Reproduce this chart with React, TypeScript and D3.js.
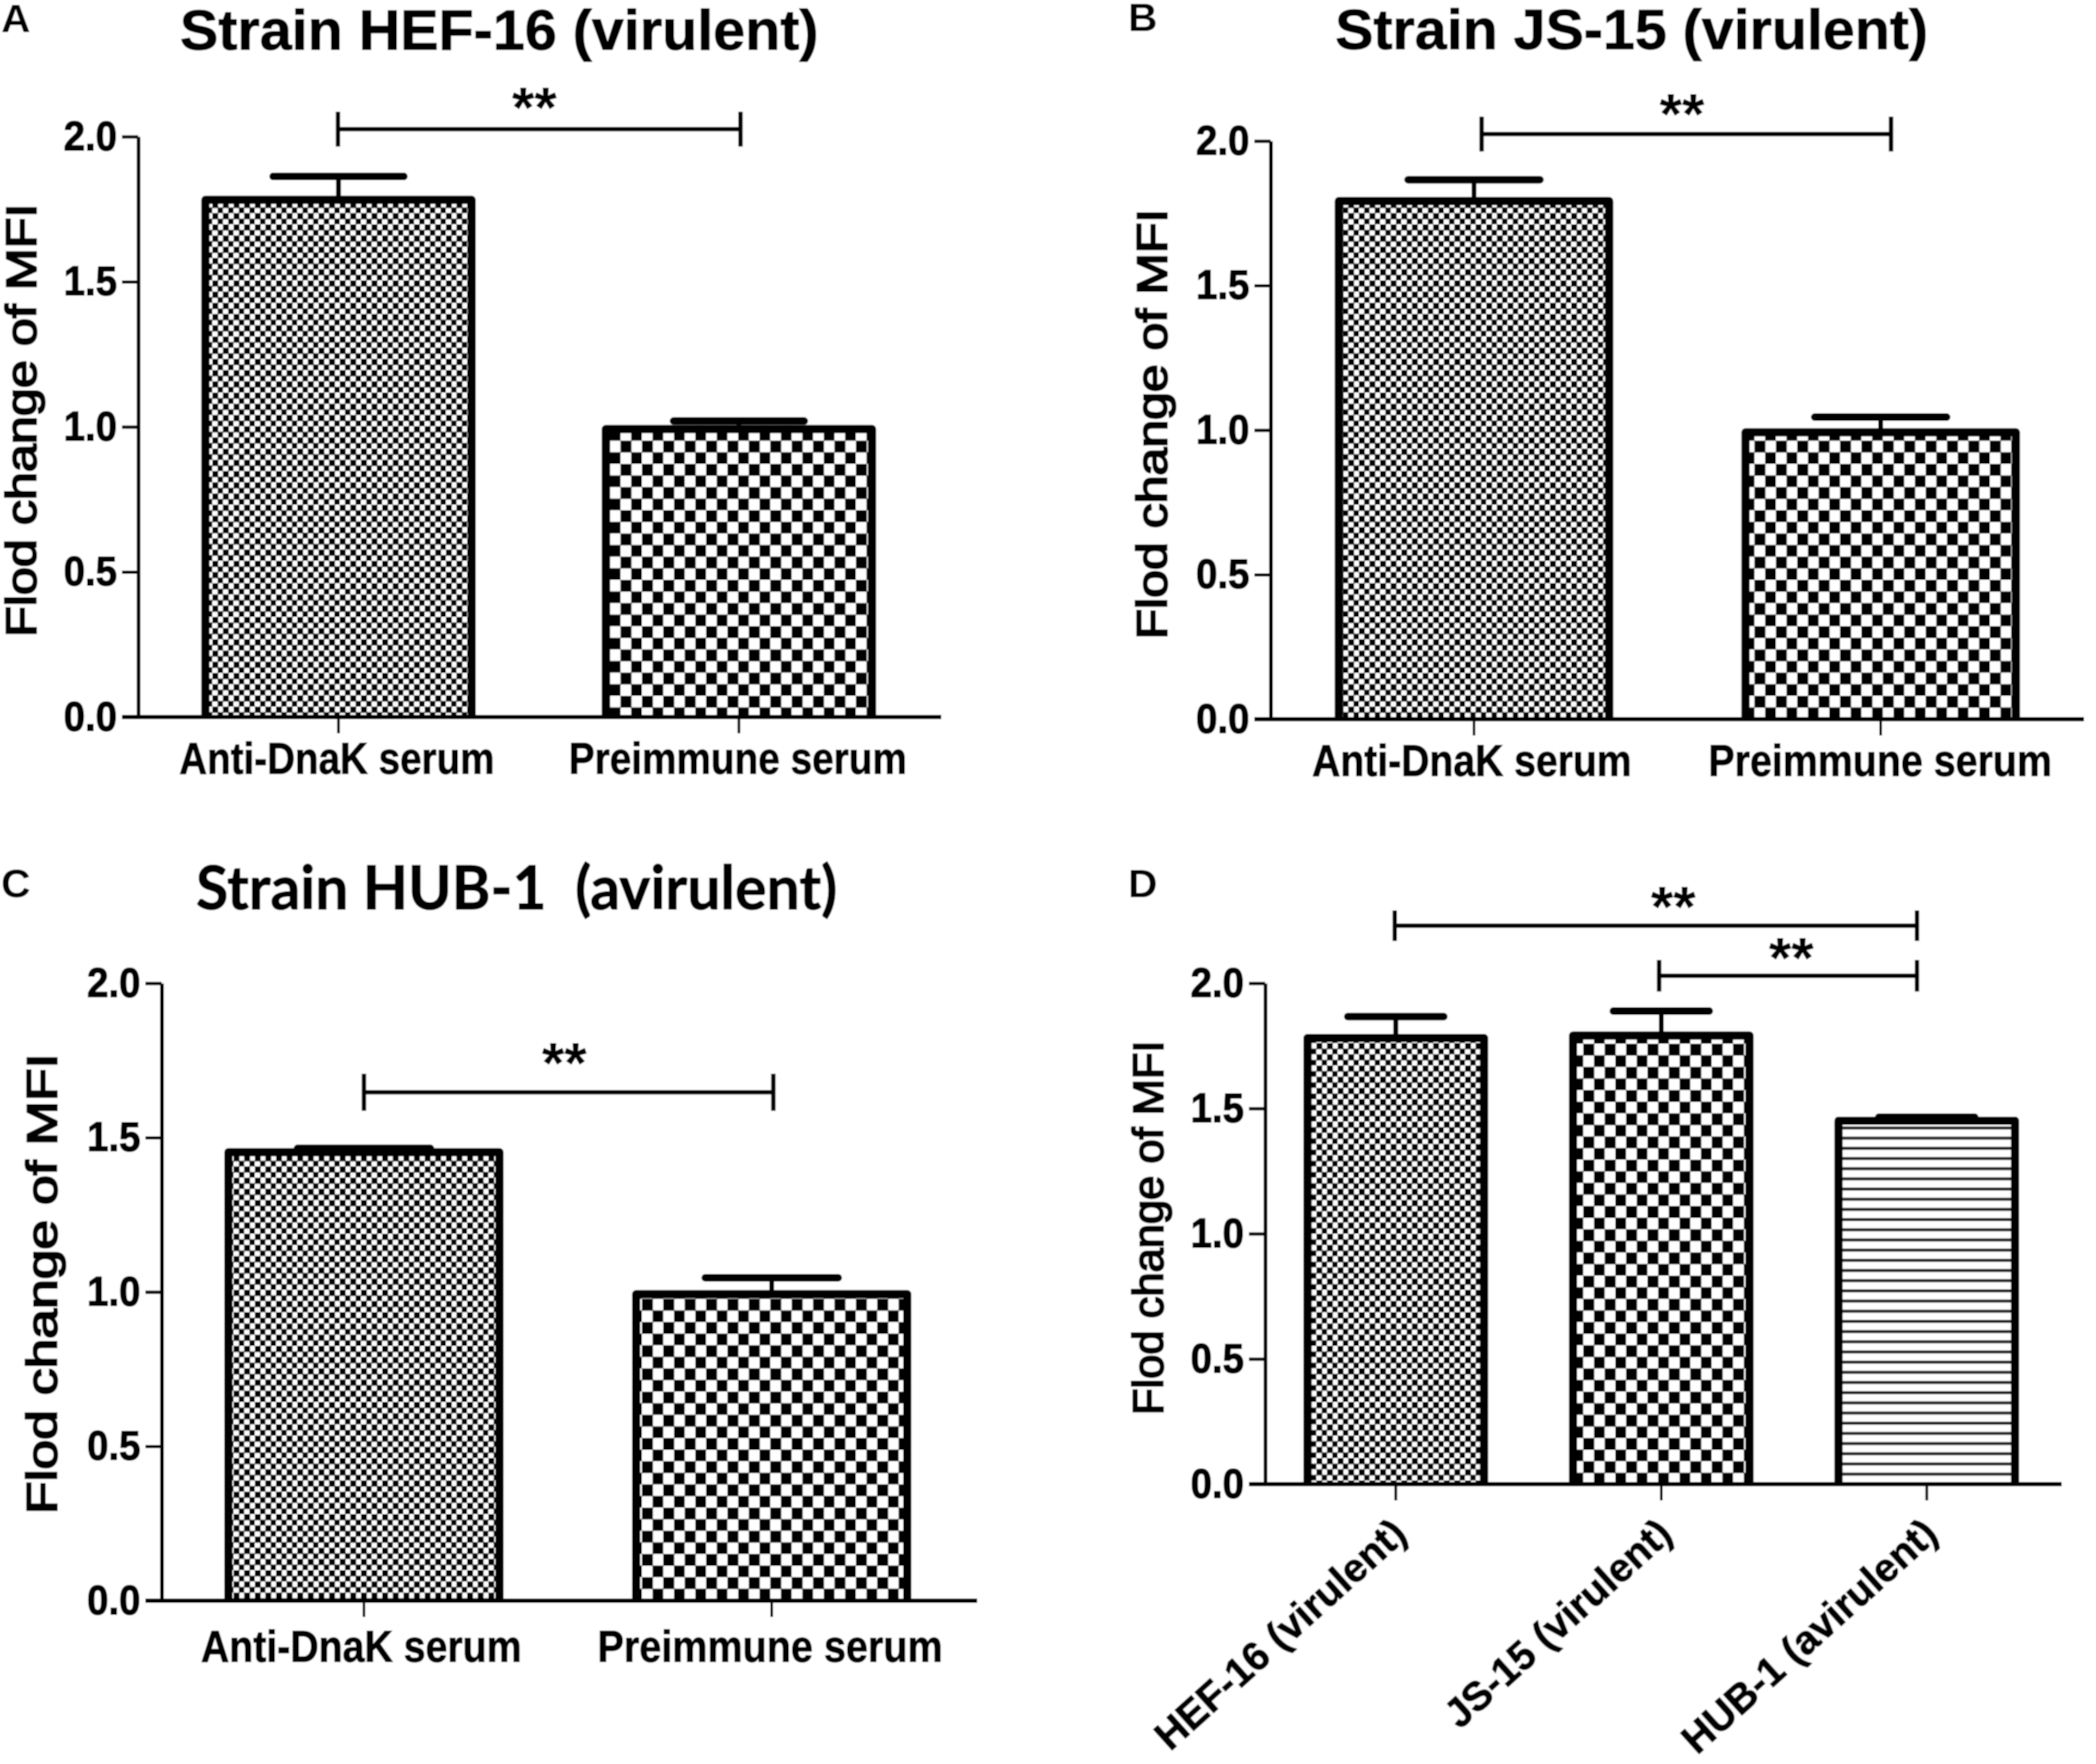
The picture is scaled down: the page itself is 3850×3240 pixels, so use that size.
import { useEffect, useRef } from "react"
import * as d3 from "d3"

const serumCategories = ["Anti-DnaK serum", "Preimmune serum"]
const strainCategories = ["HEF-16 (virulent)", "JS-15 (virulent)", "HUB-1 (avirulent)"]
const yTicks = [0, 0.5, 1, 1.5, 2]

const meansA = [1.79, 1.0]
const errorsA = [1.863, 1.02]
const meansB = [1.8, 1.0]
const errorsB = [1.866, 1.045]
const meansC = [1.46, 1.0]
const errorsC = [1.465, 1.046]
const meansD = [1.79, 1.8, 1.46]
const errorsD = [1.867, 1.889, 1.465]

const patternsSerum = ["fine", "coarse"]
const patternsStrain = ["fine", "coarse", "stripes"]

const panels: any[] = [
  {
    letter: "A", letterX: 2, letterY: 59,
    title: "Strain HEF-16 (virulent)", titleX: 917, titleY: 91, titleW: 1173, titleFont: "Liberation Sans", titleSize: 104,
    categories: serumCategories, patterns: patternsSerum, means: meansA, errors: errorsA,
    x0: 254, x1: 1729, band0: 254, band1: 1725, yTop: 251, yBottom: 1317,
    capHalf: 120, labelY: 104, labelWidths: [579, 621], labelDx: [-3, -2],
    yLabelX: 66, yLabelY: 772, yLabelW: 796,
    brackets: [{ from: 0, to: 1, level: 2.026, half: 32, dxFrom: -1, dxTo: 3, starDx: -9, starDy: 58 }],
  },
  {
    letter: "B", letterX: 2072, letterY: 57,
    title: "Strain JS-15 (virulent)", titleX: 2997, titleY: 90, titleW: 1089, titleFont: "Liberation Sans", titleSize: 104,
    categories: serumCategories, patterns: patternsSerum, means: meansB, errors: errorsB,
    x0: 2334, x1: 3828, band0: 2334, band1: 3828, yTop: 259, yBottom: 1321,
    capHalf: 121, labelY: 104, labelWidths: [587, 631], labelDx: [-4, -1],
    yLabelX: 2143, yLabelY: 779, yLabelW: 791,
    brackets: [{ from: 0, to: 1, level: 2.024, half: 32, dxFrom: 14, dxTo: 19, starDx: -8, starDy: 55 }],
  },
  {
    letter: "C", letterX: 2, letterY: 1648,
    title: "Strain HUB-1  (avirulent)", titleX: 949, titleY: 1670, titleW: 1178, titleFont: "Lato", titleSize: 112,
    categories: serumCategories, patterns: patternsSerum, means: meansC, errors: errorsC,
    x0: 297, x1: 1795, band0: 294, band1: 1792, yTop: 1806, yBottom: 2940,
    capHalf: 122, labelY: 112, labelWidths: [589, 634], labelDx: [-5, -3],
    yLabelX: 104, yLabelY: 2358, yLabelW: 846,
    brackets: [{ from: 0, to: 1, level: 1.647, half: 34, dxFrom: 0, dxTo: 3, starDx: -8, starDy: 72 }],
  },
  {
    letter: "D", letterX: 2072, letterY: 1648,
    categories: strainCategories, patterns: patternsStrain, means: meansD, errors: errorsD,
    x0: 2324, x1: 3787, band0: 2320, band1: 3783, yTop: 1806, yBottom: 2726,
    capHalf: 88, rotated: true, rotatedWidths: [590, 530, 600],
    yLabelX: 2136, yLabelY: 2255, yLabelW: 688,
    brackets: [
      { from: 0, to: 2, level: 2.23, half: 28, dxFrom: -2, dxTo: -18, starDx: 32, starDy: 53 },
      { from: 1, to: 2, level: 2.03, half: 29, dxFrom: -4, dxTo: -18, starDx: 6, starDy: 51 },
    ],
  },
]

const BOLD = "'Liberation Sans', Arial, sans-serif"

function addDefs(svg: any) {
  const defs = svg.append("defs")
  const checker = (id: string, w: number, h: number, over: number) => {
    const p = defs
      .append("pattern")
      .attr("id", id)
      .attr("patternUnits", "userSpaceOnUse")
      .attr("width", w)
      .attr("height", h)
    p.append("rect").attr("width", w).attr("height", h).attr("fill", "#fff")
    p.append("rect").attr("width", w / 2 + over).attr("height", h / 2 + over).attr("fill", "#000")
    p.append("rect")
      .attr("x", w / 2)
      .attr("y", h / 2)
      .attr("width", w / 2 + over)
      .attr("height", h / 2 + over)
      .attr("fill", "#000")
  }
  checker("fine", 19.5, 20.6, 1)
  checker("coarse", 39.3, 42.6, 0.5)
  const s = defs
    .append("pattern")
    .attr("id", "stripes")
    .attr("patternUnits", "userSpaceOnUse")
    .attr("width", 20)
    .attr("height", 18.7)
  s.append("rect").attr("width", 20).attr("height", 18.7).attr("fill", "#fff")
  s.append("rect").attr("y", 12).attr("width", 20).attr("height", 5.5).attr("fill", "#222")
  // the source is a soft jpeg
  defs
    .append("filter")
    .attr("id", "soft")
    .attr("x", 0)
    .attr("y", 0)
    .attr("width", "100%")
    .attr("height", "100%")
    .append("feGaussianBlur")
    .attr("stdDeviation", 1.1)
}

function drawPanel(svg: any, p: any) {
  const g = svg.append("g")
  const y = d3.scaleLinear().domain([0, 2]).range([p.yBottom, p.yTop])
  const x = d3.scaleBand<string>().domain(p.categories).range([p.band0, p.band1]).paddingInner(0.335).paddingOuter(0.1675)
  const mid = (i: number) => (x(p.categories[i]) as number) + x.bandwidth() / 2
  const sw = 15
  const inset = 4

  // error bars go under the bars
  p.categories.forEach((c: string, i: number) => {
    g.append("line")
      .attr("x1", mid(i))
      .attr("x2", mid(i))
      .attr("y1", y(p.means[i]))
      .attr("y2", y(p.errors[i]))
      .attr("stroke", "#000")
      .attr("stroke-width", 9)
    g.append("line")
      .attr("x1", mid(i) - p.capHalf)
      .attr("x2", mid(i) + p.capHalf)
      .attr("y1", y(p.errors[i]))
      .attr("y2", y(p.errors[i]))
      .attr("stroke", "#000")
      .attr("stroke-width", 14)
      .attr("stroke-linecap", "round")
  })

  p.categories.forEach((c: string, i: number) => {
    const left = x(c) as number
    const right = left + x.bandwidth()
    const top = y(p.means[i]) + inset
    g.append("rect")
      .attr("x", left)
      .attr("y", top)
      .attr("width", x.bandwidth())
      .attr("height", y(0) - top)
      .attr("fill", `url(#${p.patterns[i]})`)
    // three sides only, the axis closes the bar
    const outline = d3.path()
    outline.moveTo(left, y(0))
    outline.lineTo(left, top)
    outline.lineTo(right, top)
    outline.lineTo(right, y(0))
    g.append("path")
      .attr("d", outline.toString())
      .attr("fill", "none")
      .attr("stroke", "#000")
      .attr("stroke-width", sw)
      .attr("stroke-linejoin", "round")
  })

  const yAxis = g
    .append("g")
    .attr("transform", `translate(${p.x0},0)`)
    .call(d3.axisLeft(y).tickValues(yTicks).tickFormat(d3.format(".1f") as any).tickSize(30).tickPadding(9).tickSizeOuter(0))
  yAxis.select(".domain").attr("stroke", "#000").attr("stroke-width", 7)
  yAxis.selectAll("line").attr("stroke", "#000").attr("stroke-width", 6)
  yAxis
    .selectAll("text")
    .attr("font-family", BOLD)
    .attr("font-weight", 700)
    .attr("font-size", 76)
    .attr("fill", "#000")
    .attr("stroke", "#000")
    .attr("stroke-width", 2)
    .attr("textLength", 98)
    .attr("lengthAdjust", "spacingAndGlyphs")

  const xAxis = g
    .append("g")
    .attr("transform", `translate(0,${p.yBottom})`)
    .call(d3.axisBottom(x).tickSize(30).tickSizeOuter(0))
  xAxis.select(".domain").remove()
  xAxis.selectAll("line").attr("stroke", "#000").attr("stroke-width", 5)
  const labels = xAxis
    .selectAll("text")
    .attr("font-family", BOLD)
    .attr("font-weight", 700)
    .attr("fill", "#000")
    .attr("stroke", "#000")
    .attr("stroke-width", 1.5)
  if (p.rotated) {
    labels
      .attr("font-size", 74)
      .attr("text-anchor", "end")
      .attr("dy", 0)
      .attr("y", 0)
      .attr("transform", "translate(24,97) rotate(-42)")
      .attr("textLength", (_: string, i: number) => p.rotatedWidths[i])
      .attr("lengthAdjust", "spacingAndGlyphs")
  } else {
    labels
      .attr("font-size", 82)
      .attr("dy", 0)
      .attr("y", p.labelY)
      .attr("x", (_: string, i: number) => p.labelDx[i])
      .attr("textLength", (_: string, i: number) => p.labelWidths[i])
      .attr("lengthAdjust", "spacingAndGlyphs")
  }

  g.append("line")
    .attr("x1", p.x0 - 30)
    .attr("x2", p.x1)
    .attr("y1", p.yBottom)
    .attr("y2", p.yBottom)
    .attr("stroke", "#000")
    .attr("stroke-width", 8)

  g.append("text")
    .attr("transform", `translate(${p.yLabelX},${p.yLabelY}) rotate(-90)`)
    .attr("text-anchor", "middle")
    .attr("font-family", BOLD)
    .attr("font-weight", 400)
    .attr("font-size", 78)
    .attr("stroke", "#000")
    .attr("stroke-width", 3.5)
    .attr("textLength", p.yLabelW)
    .attr("lengthAdjust", "spacingAndGlyphs")
    .text("Flod change of MFI")

  p.brackets.forEach((b: any) => {
    const x1 = mid(b.from) + b.dxFrom
    const x2 = mid(b.to) + b.dxTo
    const by = y(b.level)
    const path = d3.path()
    path.moveTo(x1, by - b.half)
    path.lineTo(x1, by + b.half)
    path.moveTo(x1, by)
    path.lineTo(x2, by)
    path.moveTo(x2, by - b.half)
    path.lineTo(x2, by + b.half)
    g.append("path").attr("d", path.toString()).attr("fill", "none").attr("stroke", "#000").attr("stroke-width", 8)
    g.append("text")
      .attr("x", (x1 + x2) / 2 + b.starDx)
      .attr("y", by - b.starDy + 55)
      .attr("text-anchor", "middle")
      .attr("font-family", BOLD)
      .attr("font-weight", 700)
      .attr("font-size", 106)
      .text("**")
  })

  g.append("text")
    .attr("x", p.letterX)
    .attr("y", p.letterY)
    .attr("font-family", BOLD)
    .attr("font-weight", 700)
    .attr("font-size", 72)
    .attr("textLength", 54)
    .attr("lengthAdjust", "spacingAndGlyphs")
    .text(p.letter)

  if (p.title) {
    g.append("text")
      .attr("x", p.titleX)
      .attr("y", p.titleY)
      .attr("text-anchor", "middle")
      .attr("font-family", `'${p.titleFont}', sans-serif`)
      .attr("font-weight", 700)
      .attr("font-size", p.titleSize)
      .attr("stroke", "#000")
      .attr("stroke-width", 1.5)
      .attr("textLength", p.titleW)
      .attr("lengthAdjust", "spacingAndGlyphs")
      .style("white-space", "pre")
      .text(p.title)
  }
}

export default function App() {
  const svgRef = useRef<SVGSVGElement>(null)

  useEffect(() => {
    if (!svgRef.current) return
    const svg = d3.select(svgRef.current)
    svg.selectAll("*").remove()
    addDefs(svg)
    const root = svg.append("g").attr("filter", "url(#soft)")
    root.append("rect").attr("width", 3850).attr("height", 3240).attr("fill", "#fff")
    panels.forEach((p) => drawPanel(root, p))
  }, [])

  return <svg ref={svgRef} width={3850} height={3240} style={{ position: "absolute", left: 0, top: 0, display: "block" }} />
}
